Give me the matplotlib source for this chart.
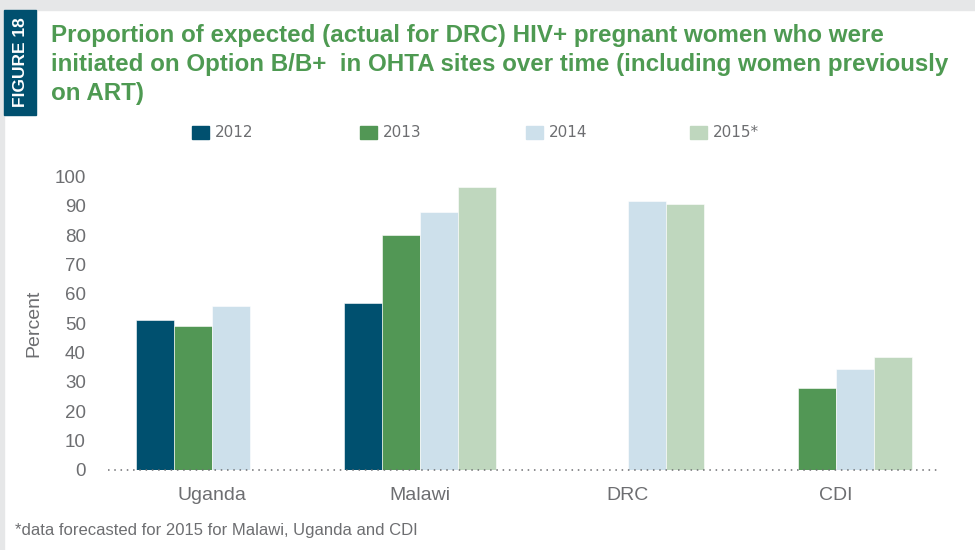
import numpy as np
import matplotlib.pyplot as plt
from matplotlib.patches import Rectangle

countries = ['Uganda', 'Malawi', 'DRC', 'CDI']
years = ['2012', '2013', '2014', '2015*']
v2012 = [51, 57, np.nan, np.nan]
v2013 = [49, 80, np.nan, 28]
v2014 = [56, 88, 91.5, 34.5]
v2015 = [np.nan, 96.5, 90.5, 38.5]
colors = ['#00506f', '#529755', '#cde0eb', '#bfd7be']

title = ('Proportion of expected (actual for DRC) HIV+ pregnant women who were\n'
         'initiated on Option B/B+  in OHTA sites over time (including women previously\n'
         'on ART)')
note = '*data forecasted for 2015 for Malawi, Uganda and CDI'

txt = '#6d6e71'
plt.rcParams['font.family'] = ['Liberation Sans', 'DejaVu Sans']

fig = plt.figure(figsize=(9.75, 5.5), dpi=100)
W, H = 975, 550

# gray frame + figure tag
fig.patches.append(Rectangle((0, 1 - 10 / H), 1, 10 / H, transform=fig.transFigure,
                             color='#e6e7e8', zorder=0))
fig.patches.append(Rectangle((0, 0), 4 / W, 1, transform=fig.transFigure,
                             color='#e6e7e8', zorder=0))
fig.patches.append(Rectangle((4 / W, 1 - 115 / H), 32 / W, 105 / H, transform=fig.transFigure,
                             color='#00506f', zorder=1))
fig.text(20.5 / W, 1 - 62 / H, 'FIGURE 18', rotation=90, color='white', fontsize=12.5,
         fontweight='bold', ha='center', va='center')

fig.text(51 / W, 1 - 24 / H, title, color='#4e9a52', fontsize=17.4, fontweight='bold',
         ha='left', va='top', linespacing=1.32)

ax = fig.add_axes([108 / W, 1 - 470 / H, 832 / W, 293.5 / H])
x = np.arange(len(countries))
bw = 0.183
series = [v2012, v2013, v2014, v2015]
for i, vals in enumerate(series):
    ax.bar(x + (i - 1.5) * bw, vals, bw, color=colors[i], edgecolor='white',
           linewidth=0.4, zorder=2)

ax.set_xlim(-0.5, 3.5)
ax.set_ylim(0, 100)
ax.set_yticks(range(0, 101, 10))
ax.set_xticks(x)
ax.set_xticklabels(countries, fontsize=14)
for s in ax.spines.values():
    s.set_visible(False)
ax.axhline(0, color='#6d6e71', lw=1.1, linestyle=(0, (1, 3.1)), zorder=3, clip_on=False)
ax.tick_params(axis='both', length=0, labelcolor=txt)
ax.tick_params(axis='y', pad=16, labelsize=13.5)
ax.tick_params(axis='x', pad=12)
ax.set_ylabel('Percent', fontsize=14, color=txt)
ax.yaxis.set_label_coords(-66 / 832, 0.5)

# legend
lx = [192, 360, 526, 690]
for i, lab in enumerate(years):
    fig.patches.append(Rectangle((lx[i] / W, 1 - 139 / H), 17 / W, 13 / H,
                                 transform=fig.transFigure, color=colors[i], zorder=2))
    fig.text((lx[i] + 23) / W, 1 - 132.5 / H, lab, color=txt, fontsize=11,
             family=['Liberation Sans Narrow', 'DejaVu Sans'], ha='left', va='center')

fig.text(15 / W, 1 - 530 / H, note, color=txt, fontsize=12, ha='left', va='center')

fig.savefig('out.png', dpi=100, facecolor='white')
